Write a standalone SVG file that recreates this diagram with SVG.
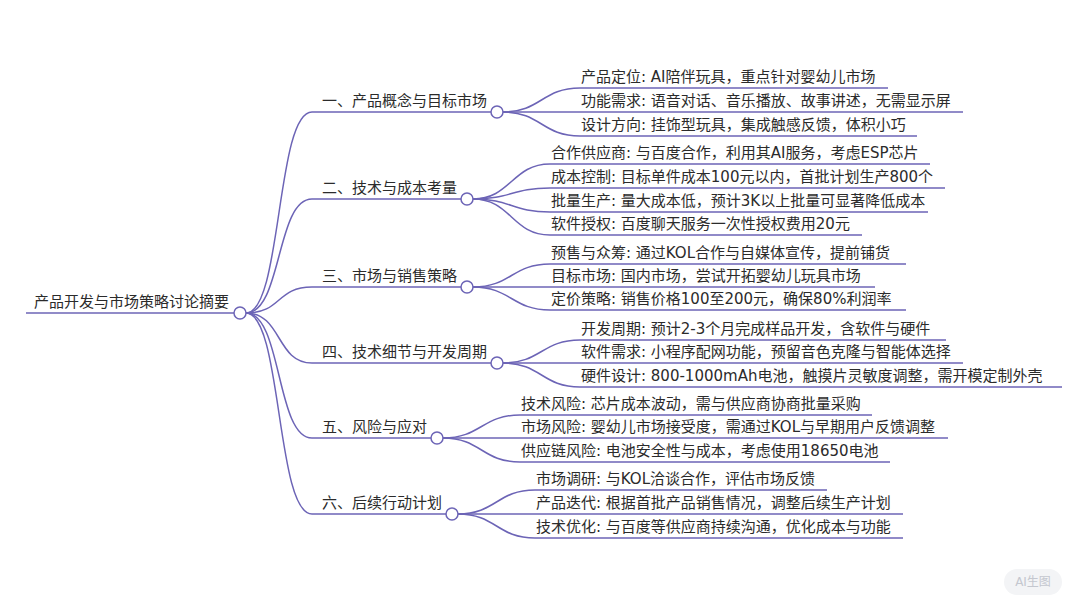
<svg xmlns="http://www.w3.org/2000/svg" width="1080" height="608" viewBox="0 0 1080 608">
<style>
text{font-family:"DejaVu Sans","Noto Sans CJK SC",sans-serif;font-size:15px;fill:#2b2b2b}
.ln{fill:none;stroke:#6c64b6;stroke-width:1.5}
.nd{fill:#fff;stroke:#6c64b6;stroke-width:1.5}
.badge{font-size:12px;fill:#c4c7cf}
</style>
<rect width="1080" height="608" fill="#fff"/>
<g id="connectors">
<path class="ln" d="M26 313H234"/>
<path class="ln" d="M246 313C282 313 276 112 312 112H491"/>
<path class="ln" d="M246 313C282 313 276 199 312 199H461"/>
<path class="ln" d="M246 313C282 313 276 287 312 287H461"/>
<path class="ln" d="M246 313C282 313 276 363 312 363H491"/>
<path class="ln" d="M246 313C282 313 276 438 312 438H431"/>
<path class="ln" d="M246 313C282 313 276 514 312 514H446"/>
<path class="ln" d="M503 112C541 112 542 88 580 88H888"/>
<path class="ln" d="M503 112H963"/>
<path class="ln" d="M503 112C541 112 542 136 580 136H917"/>
<path class="ln" d="M473 199C511 199 512 164 550 164H930"/>
<path class="ln" d="M473 199C511 199 512 188 550 188H945"/>
<path class="ln" d="M473 199C511 199 512 212 550 212H928"/>
<path class="ln" d="M473 199C511 199 512 235 550 235H862"/>
<path class="ln" d="M473 287C511 287 512 264 550 264H906"/>
<path class="ln" d="M473 287H875"/>
<path class="ln" d="M473 287C511 287 512 310 550 310H906"/>
<path class="ln" d="M503 363C541 363 542 340 580 340H946"/>
<path class="ln" d="M503 363H963"/>
<path class="ln" d="M503 363C541 363 542 387 580 387H1062"/>
<path class="ln" d="M443 438C481 438 482 415 520 415H872"/>
<path class="ln" d="M443 438H948"/>
<path class="ln" d="M443 438C481 438 482 462 520 462H890"/>
<path class="ln" d="M458 514C496 514 497 490 535 490H827"/>
<path class="ln" d="M458 514H903"/>
<path class="ln" d="M458 514C496 514 497 538 535 538H903"/>
</g>
<g id="root"><text x="34" y="307">产品开发与市场策略讨论摘要</text><circle class="nd" cx="240" cy="313" r="6"/></g>
<g id="b1"><text x="322" y="106">一、产品概念与目标市场</text><circle class="nd" cx="497" cy="112" r="6"/></g>
<g id="b2"><text x="322" y="193">二、技术与成本考量</text><circle class="nd" cx="467" cy="199" r="6"/></g>
<g id="b3"><text x="322" y="281">三、市场与销售策略</text><circle class="nd" cx="467" cy="287" r="6"/></g>
<g id="b4"><text x="322" y="357">四、技术细节与开发周期</text><circle class="nd" cx="497" cy="363" r="6"/></g>
<g id="b5"><text x="322" y="432">五、风险与应对</text><circle class="nd" cx="437" cy="438" r="6"/></g>
<g id="b6"><text x="322" y="508">六、后续行动计划</text><circle class="nd" cx="452" cy="514" r="6"/></g>
<g id="l1a"><text x="581" y="82">产品定位: AI陪伴玩具，重点针对婴幼儿市场</text></g>
<g id="l1b"><text x="581" y="106">功能需求: 语音对话、音乐播放、故事讲述，无需显示屏</text></g>
<g id="l1c"><text x="581" y="130">设计方向: 挂饰型玩具，集成触感反馈，体积小巧</text></g>
<g id="l2a"><text x="551" y="158">合作供应商: 与百度合作，利用其AI服务，考虑ESP芯片</text></g>
<g id="l2b"><text x="551" y="182">成本控制: 目标单件成本100元以内，首批计划生产800个</text></g>
<g id="l2c"><text x="551" y="206">批量生产: 量大成本低，预计3K以上批量可显著降低成本</text></g>
<g id="l2d"><text x="551" y="229">软件授权: 百度聊天服务一次性授权费用20元</text></g>
<g id="l3a"><text x="551" y="258">预售与众筹: 通过KOL合作与自媒体宣传，提前铺货</text></g>
<g id="l3b"><text x="551" y="281">目标市场: 国内市场，尝试开拓婴幼儿玩具市场</text></g>
<g id="l3c"><text x="551" y="304">定价策略: 销售价格100至200元，确保80%利润率</text></g>
<g id="l4a"><text x="581" y="334">开发周期: 预计2-3个月完成样品开发，含软件与硬件</text></g>
<g id="l4b"><text x="581" y="357">软件需求: 小程序配网功能，预留音色克隆与智能体选择</text></g>
<g id="l4c"><text x="581" y="381">硬件设计: 800-1000mAh电池，触摸片灵敏度调整，需开模定制外壳</text></g>
<g id="l5a"><text x="521" y="409">技术风险: 芯片成本波动，需与供应商协商批量采购</text></g>
<g id="l5b"><text x="521" y="432">市场风险: 婴幼儿市场接受度，需通过KOL与早期用户反馈调整</text></g>
<g id="l5c"><text x="521" y="456">供应链风险: 电池安全性与成本，考虑使用18650电池</text></g>
<g id="l6a"><text x="536" y="484">市场调研: 与KOL洽谈合作，评估市场反馈</text></g>
<g id="l6b"><text x="536" y="508">产品迭代: 根据首批产品销售情况，调整后续生产计划</text></g>
<g id="l6c"><text x="536" y="532">技术优化: 与百度等供应商持续沟通，优化成本与功能</text></g>
<g id="badge"><rect x="1004" y="569" width="58" height="26" rx="13" fill="#f3f4f6"/><text class="badge" x="1033" y="586" text-anchor="middle">AI生图</text></g>
</svg>
